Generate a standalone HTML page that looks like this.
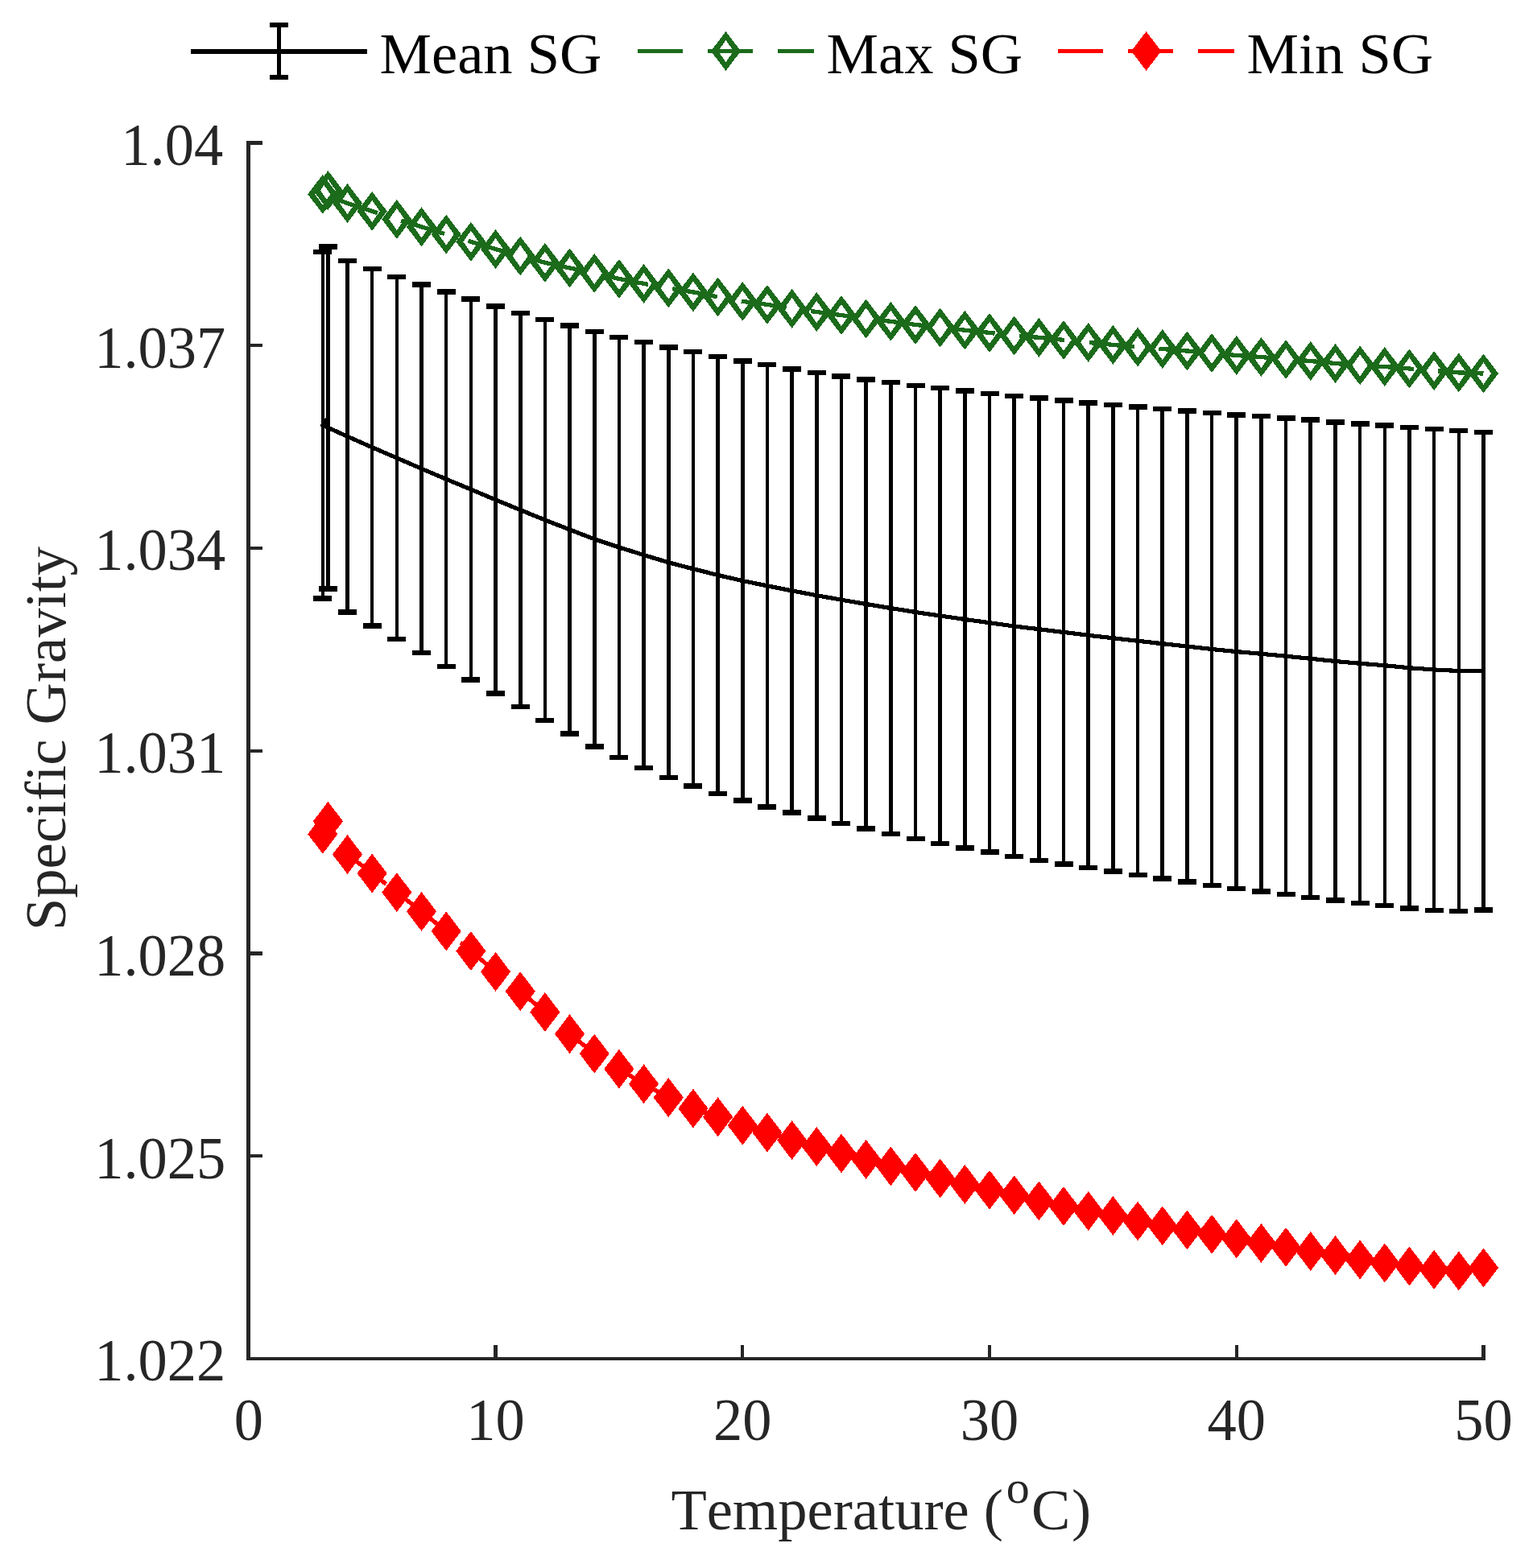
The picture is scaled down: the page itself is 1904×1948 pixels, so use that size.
<!DOCTYPE html>
<html lang="en"><head><meta charset="utf-8"><title>Specific Gravity vs Temperature</title>
<style>
html,body{margin:0;padding:0;background:#fff;}
body{width:1904px;height:1948px;overflow:hidden;}
svg{display:block;}
text{font-family:"Liberation Serif",serif;font-size:72.5px;font-kerning:none;font-variant-ligatures:none;white-space:pre;}
.tk{fill:#262626;}
.lg{fill:#000;}
</style></head><body>
<svg width="1904" height="1948" viewBox="0 0 1904 1948">
<rect width="1904" height="1948" fill="#fff"/>
<g stroke="#262626" stroke-width="4.4" fill="none" shape-rendering="crispEdges" stroke-linecap="butt">
<path d="M308.5 175.3V1688H1844.7"/>
<path d="M308.5 177.5h17.5M308.5 429.25h17.5M308.5 681h17.5M308.5 932.75h17.5M308.5 1184.5h17.5M308.5 1436.25h17.5M615.54 1688v-17.5M922.28 1688v-17.5M1229.02 1688v-17.5M1535.76 1688v-17.5M1842.5 1688v-17.5"/>
</g>
<g shape-rendering="crispEdges">
<polyline points="407.42,236.5 400.82,241.3 431.5,252.5 462.17,262.4 492.84,272.4 523.52,281.8 554.19,291.1 584.87,300.3 615.54,309.5 646.21,318 676.89,326.3 707.56,332.9 738.24,339.4 768.91,346.4 799.58,352.4 830.26,357.9 860.93,362.9 891.61,368.9 922.28,374.4 952.95,378.4 983.63,383.4 1014.3,387.5 1044.98,391.6 1075.65,396 1106.32,399.3 1137,403.4 1167.67,407 1198.35,410.2 1229.02,413.4 1259.69,417 1290.37,419.3 1321.04,422.4 1351.72,425.4 1382.39,428.4 1413.06,431.1 1443.74,433.5 1474.41,436 1505.09,438.5 1535.76,441.5 1566.43,443.5 1597.11,446.5 1627.78,448.5 1658.46,451.5 1689.13,453.9 1719.8,455.5 1750.48,458 1781.15,460.6 1811.83,462.9 1842.5,464" fill="none" stroke="#1b6b1b" stroke-width="5.3" stroke-dasharray="56.3 30.7" stroke-dashoffset="63.17"/>
<path fill="#1b6b1b" fill-rule="evenodd" d="M407.42 212.1L426.02 236.5L407.42 260.9L388.82 236.5ZM407.42 222.9L417.02 236.5L407.42 250.1L397.82 236.5Z"/>
<path fill="#1b6b1b" fill-rule="evenodd" d="M400.82 216.9L419.42 241.3L400.82 265.7L382.22 241.3ZM400.82 227.7L410.42 241.3L400.82 254.9L391.22 241.3Z"/>
<path fill="#1b6b1b" fill-rule="evenodd" d="M431.5 228.1L450.1 252.5L431.5 276.9L412.9 252.5ZM431.5 238.9L441.1 252.5L431.5 266.1L421.9 252.5Z"/>
<path fill="#1b6b1b" fill-rule="evenodd" d="M462.17 238L480.77 262.4L462.17 286.8L443.57 262.4ZM462.17 248.8L471.77 262.4L462.17 276L452.57 262.4Z"/>
<path fill="#1b6b1b" fill-rule="evenodd" d="M492.84 248L511.44 272.4L492.84 296.8L474.24 272.4ZM492.84 258.8L502.44 272.4L492.84 286L483.24 272.4Z"/>
<path fill="#1b6b1b" fill-rule="evenodd" d="M523.52 257.4L542.12 281.8L523.52 306.2L504.92 281.8ZM523.52 268.2L533.12 281.8L523.52 295.4L513.92 281.8Z"/>
<path fill="#1b6b1b" fill-rule="evenodd" d="M554.19 266.7L572.79 291.1L554.19 315.5L535.59 291.1ZM554.19 277.5L563.79 291.1L554.19 304.7L544.59 291.1Z"/>
<path fill="#1b6b1b" fill-rule="evenodd" d="M584.87 275.9L603.47 300.3L584.87 324.7L566.27 300.3ZM584.87 286.7L594.47 300.3L584.87 313.9L575.27 300.3Z"/>
<path fill="#1b6b1b" fill-rule="evenodd" d="M615.54 285.1L634.14 309.5L615.54 333.9L596.94 309.5ZM615.54 295.9L625.14 309.5L615.54 323.1L605.94 309.5Z"/>
<path fill="#1b6b1b" fill-rule="evenodd" d="M646.21 293.6L664.81 318L646.21 342.4L627.61 318ZM646.21 304.4L655.81 318L646.21 331.6L636.61 318Z"/>
<path fill="#1b6b1b" fill-rule="evenodd" d="M676.89 301.9L695.49 326.3L676.89 350.7L658.29 326.3ZM676.89 312.7L686.49 326.3L676.89 339.9L667.29 326.3Z"/>
<path fill="#1b6b1b" fill-rule="evenodd" d="M707.56 308.5L726.16 332.9L707.56 357.3L688.96 332.9ZM707.56 319.3L717.16 332.9L707.56 346.5L697.96 332.9Z"/>
<path fill="#1b6b1b" fill-rule="evenodd" d="M738.24 315L756.84 339.4L738.24 363.8L719.64 339.4ZM738.24 325.8L747.84 339.4L738.24 353L728.64 339.4Z"/>
<path fill="#1b6b1b" fill-rule="evenodd" d="M768.91 322L787.51 346.4L768.91 370.8L750.31 346.4ZM768.91 332.8L778.51 346.4L768.91 360L759.31 346.4Z"/>
<path fill="#1b6b1b" fill-rule="evenodd" d="M799.58 328L818.18 352.4L799.58 376.8L780.98 352.4ZM799.58 338.8L809.18 352.4L799.58 366L789.98 352.4Z"/>
<path fill="#1b6b1b" fill-rule="evenodd" d="M830.26 333.5L848.86 357.9L830.26 382.3L811.66 357.9ZM830.26 344.3L839.86 357.9L830.26 371.5L820.66 357.9Z"/>
<path fill="#1b6b1b" fill-rule="evenodd" d="M860.93 338.5L879.53 362.9L860.93 387.3L842.33 362.9ZM860.93 349.3L870.53 362.9L860.93 376.5L851.33 362.9Z"/>
<path fill="#1b6b1b" fill-rule="evenodd" d="M891.61 344.5L910.21 368.9L891.61 393.3L873.01 368.9ZM891.61 355.3L901.21 368.9L891.61 382.5L882.01 368.9Z"/>
<path fill="#1b6b1b" fill-rule="evenodd" d="M922.28 350L940.88 374.4L922.28 398.8L903.68 374.4ZM922.28 360.8L931.88 374.4L922.28 388L912.68 374.4Z"/>
<path fill="#1b6b1b" fill-rule="evenodd" d="M952.95 354L971.55 378.4L952.95 402.8L934.35 378.4ZM952.95 364.8L962.55 378.4L952.95 392L943.35 378.4Z"/>
<path fill="#1b6b1b" fill-rule="evenodd" d="M983.63 359L1002.23 383.4L983.63 407.8L965.03 383.4ZM983.63 369.8L993.23 383.4L983.63 397L974.03 383.4Z"/>
<path fill="#1b6b1b" fill-rule="evenodd" d="M1014.3 363.1L1032.9 387.5L1014.3 411.9L995.7 387.5ZM1014.3 373.9L1023.9 387.5L1014.3 401.1L1004.7 387.5Z"/>
<path fill="#1b6b1b" fill-rule="evenodd" d="M1044.98 367.2L1063.58 391.6L1044.98 416L1026.38 391.6ZM1044.98 378L1054.58 391.6L1044.98 405.2L1035.38 391.6Z"/>
<path fill="#1b6b1b" fill-rule="evenodd" d="M1075.65 371.6L1094.25 396L1075.65 420.4L1057.05 396ZM1075.65 382.4L1085.25 396L1075.65 409.6L1066.05 396Z"/>
<path fill="#1b6b1b" fill-rule="evenodd" d="M1106.32 374.9L1124.92 399.3L1106.32 423.7L1087.72 399.3ZM1106.32 385.7L1115.92 399.3L1106.32 412.9L1096.72 399.3Z"/>
<path fill="#1b6b1b" fill-rule="evenodd" d="M1137 379L1155.6 403.4L1137 427.8L1118.4 403.4ZM1137 389.8L1146.6 403.4L1137 417L1127.4 403.4Z"/>
<path fill="#1b6b1b" fill-rule="evenodd" d="M1167.67 382.6L1186.27 407L1167.67 431.4L1149.07 407ZM1167.67 393.4L1177.27 407L1167.67 420.6L1158.07 407Z"/>
<path fill="#1b6b1b" fill-rule="evenodd" d="M1198.35 385.8L1216.95 410.2L1198.35 434.6L1179.75 410.2ZM1198.35 396.6L1207.95 410.2L1198.35 423.8L1188.75 410.2Z"/>
<path fill="#1b6b1b" fill-rule="evenodd" d="M1229.02 389L1247.62 413.4L1229.02 437.8L1210.42 413.4ZM1229.02 399.8L1238.62 413.4L1229.02 427L1219.42 413.4Z"/>
<path fill="#1b6b1b" fill-rule="evenodd" d="M1259.69 392.6L1278.29 417L1259.69 441.4L1241.09 417ZM1259.69 403.4L1269.29 417L1259.69 430.6L1250.09 417Z"/>
<path fill="#1b6b1b" fill-rule="evenodd" d="M1290.37 394.9L1308.97 419.3L1290.37 443.7L1271.77 419.3ZM1290.37 405.7L1299.97 419.3L1290.37 432.9L1280.77 419.3Z"/>
<path fill="#1b6b1b" fill-rule="evenodd" d="M1321.04 398L1339.64 422.4L1321.04 446.8L1302.44 422.4ZM1321.04 408.8L1330.64 422.4L1321.04 436L1311.44 422.4Z"/>
<path fill="#1b6b1b" fill-rule="evenodd" d="M1351.72 401L1370.32 425.4L1351.72 449.8L1333.12 425.4ZM1351.72 411.8L1361.32 425.4L1351.72 439L1342.12 425.4Z"/>
<path fill="#1b6b1b" fill-rule="evenodd" d="M1382.39 404L1400.99 428.4L1382.39 452.8L1363.79 428.4ZM1382.39 414.8L1391.99 428.4L1382.39 442L1372.79 428.4Z"/>
<path fill="#1b6b1b" fill-rule="evenodd" d="M1413.06 406.7L1431.66 431.1L1413.06 455.5L1394.46 431.1ZM1413.06 417.5L1422.66 431.1L1413.06 444.7L1403.46 431.1Z"/>
<path fill="#1b6b1b" fill-rule="evenodd" d="M1443.74 409.1L1462.34 433.5L1443.74 457.9L1425.14 433.5ZM1443.74 419.9L1453.34 433.5L1443.74 447.1L1434.14 433.5Z"/>
<path fill="#1b6b1b" fill-rule="evenodd" d="M1474.41 411.6L1493.01 436L1474.41 460.4L1455.81 436ZM1474.41 422.4L1484.01 436L1474.41 449.6L1464.81 436Z"/>
<path fill="#1b6b1b" fill-rule="evenodd" d="M1505.09 414.1L1523.69 438.5L1505.09 462.9L1486.49 438.5ZM1505.09 424.9L1514.69 438.5L1505.09 452.1L1495.49 438.5Z"/>
<path fill="#1b6b1b" fill-rule="evenodd" d="M1535.76 417.1L1554.36 441.5L1535.76 465.9L1517.16 441.5ZM1535.76 427.9L1545.36 441.5L1535.76 455.1L1526.16 441.5Z"/>
<path fill="#1b6b1b" fill-rule="evenodd" d="M1566.43 419.1L1585.03 443.5L1566.43 467.9L1547.83 443.5ZM1566.43 429.9L1576.03 443.5L1566.43 457.1L1556.83 443.5Z"/>
<path fill="#1b6b1b" fill-rule="evenodd" d="M1597.11 422.1L1615.71 446.5L1597.11 470.9L1578.51 446.5ZM1597.11 432.9L1606.71 446.5L1597.11 460.1L1587.51 446.5Z"/>
<path fill="#1b6b1b" fill-rule="evenodd" d="M1627.78 424.1L1646.38 448.5L1627.78 472.9L1609.18 448.5ZM1627.78 434.9L1637.38 448.5L1627.78 462.1L1618.18 448.5Z"/>
<path fill="#1b6b1b" fill-rule="evenodd" d="M1658.46 427.1L1677.06 451.5L1658.46 475.9L1639.86 451.5ZM1658.46 437.9L1668.06 451.5L1658.46 465.1L1648.86 451.5Z"/>
<path fill="#1b6b1b" fill-rule="evenodd" d="M1689.13 429.5L1707.73 453.9L1689.13 478.3L1670.53 453.9ZM1689.13 440.3L1698.73 453.9L1689.13 467.5L1679.53 453.9Z"/>
<path fill="#1b6b1b" fill-rule="evenodd" d="M1719.8 431.1L1738.4 455.5L1719.8 479.9L1701.2 455.5ZM1719.8 441.9L1729.4 455.5L1719.8 469.1L1710.2 455.5Z"/>
<path fill="#1b6b1b" fill-rule="evenodd" d="M1750.48 433.6L1769.08 458L1750.48 482.4L1731.88 458ZM1750.48 444.4L1760.08 458L1750.48 471.6L1740.88 458Z"/>
<path fill="#1b6b1b" fill-rule="evenodd" d="M1781.15 436.2L1799.75 460.6L1781.15 485L1762.55 460.6ZM1781.15 447L1790.75 460.6L1781.15 474.2L1771.55 460.6Z"/>
<path fill="#1b6b1b" fill-rule="evenodd" d="M1811.83 438.5L1830.43 462.9L1811.83 487.3L1793.23 462.9ZM1811.83 449.3L1821.43 462.9L1811.83 476.5L1802.23 462.9Z"/>
<path fill="#1b6b1b" fill-rule="evenodd" d="M1842.5 439.6L1861.1 464L1842.5 488.4L1823.9 464ZM1842.5 450.4L1852.1 464L1842.5 477.6L1832.9 464Z"/>
</g>
<g shape-rendering="crispEdges" stroke="#000" fill="none">
<path stroke-width="4.6" d="M407.42 306.5V731.5M400.82 313V743.5M431.5 324V760.4M462.17 334V777.5M492.84 344V793.9M523.52 353.5V811M554.19 362.5V828.1M584.87 371.5V844.5M615.54 380.5V861.4M646.21 389V878M676.89 397V895M707.56 404.5V911.5M738.24 412V927.5M768.91 419V941M799.58 425V954M830.26 431.5V966M860.93 437V976.5M891.61 443V986M922.28 448.5V994.5M952.95 453.3V1002.4M983.63 458.4V1009.4M1014.3 462.9V1016.5M1044.98 467.4V1023M1075.65 471.5V1029.4M1106.32 475V1036M1137 479V1042M1167.67 482V1048M1198.35 485.5V1053.4M1229.02 489V1058.4M1259.69 492V1064M1290.37 494.5V1068.9M1321.04 497.5V1073.4M1351.72 500.5V1078M1382.39 503V1082.5M1413.06 505.5V1087M1443.74 508V1091.4M1474.41 510.5V1095.5M1505.09 513V1100M1535.76 515.5V1103.7M1566.43 517.1V1107.4M1597.11 519.5V1110.9M1627.78 521.5V1115M1658.46 524.5V1118.5M1689.13 526.6V1122M1719.8 528.4V1125M1750.48 531V1128.5M1781.15 533V1130.9M1811.83 535V1132M1842.5 537V1130.5"/>
<path stroke-width="6.3" d="M395.92 306.5h23M395.92 731.5h23M389.32 313h23M389.32 743.5h23M420 324h23M420 760.4h23M450.67 334h23M450.67 777.5h23M481.34 344h23M481.34 793.9h23M512.02 353.5h23M512.02 811h23M542.69 362.5h23M542.69 828.1h23M573.37 371.5h23M573.37 844.5h23M604.04 380.5h23M604.04 861.4h23M634.71 389h23M634.71 878h23M665.39 397h23M665.39 895h23M696.06 404.5h23M696.06 911.5h23M726.74 412h23M726.74 927.5h23M757.41 419h23M757.41 941h23M788.08 425h23M788.08 954h23M818.76 431.5h23M818.76 966h23M849.43 437h23M849.43 976.5h23M880.11 443h23M880.11 986h23M910.78 448.5h23M910.78 994.5h23M941.45 453.3h23M941.45 1002.4h23M972.13 458.4h23M972.13 1009.4h23M1002.8 462.9h23M1002.8 1016.5h23M1033.48 467.4h23M1033.48 1023h23M1064.15 471.5h23M1064.15 1029.4h23M1094.82 475h23M1094.82 1036h23M1125.5 479h23M1125.5 1042h23M1156.17 482h23M1156.17 1048h23M1186.85 485.5h23M1186.85 1053.4h23M1217.52 489h23M1217.52 1058.4h23M1248.19 492h23M1248.19 1064h23M1278.87 494.5h23M1278.87 1068.9h23M1309.54 497.5h23M1309.54 1073.4h23M1340.22 500.5h23M1340.22 1078h23M1370.89 503h23M1370.89 1082.5h23M1401.56 505.5h23M1401.56 1087h23M1432.24 508h23M1432.24 1091.4h23M1462.91 510.5h23M1462.91 1095.5h23M1493.59 513h23M1493.59 1100h23M1524.26 515.5h23M1524.26 1103.7h23M1554.93 517.1h23M1554.93 1107.4h23M1585.61 519.5h23M1585.61 1110.9h23M1616.28 521.5h23M1616.28 1115h23M1646.96 524.5h23M1646.96 1118.5h23M1677.63 526.6h23M1677.63 1122h23M1708.3 528.4h23M1708.3 1125h23M1738.98 531h23M1738.98 1128.5h23M1769.65 533h23M1769.65 1130.9h23M1800.33 535h23M1800.33 1132h23M1831 537h23M1831 1130.5h23"/>
</g>
<polyline points="407.42,519 400.82,528.25 431.5,542.2 462.17,555.75 492.84,568.95 523.52,582.25 554.19,595.3 584.87,608 615.54,620.95 646.21,633.5 676.89,646 707.56,658 738.24,669.75 768.91,680 799.58,689.5 830.26,698.75 860.93,706.75 891.61,714.5 922.28,721.5 952.95,727.85 983.63,733.9 1014.3,739.7 1044.98,745.2 1075.65,750.45 1106.32,755.5 1137,760.5 1167.67,765 1198.35,769.45 1229.02,773.7 1259.69,778 1290.37,781.7 1321.04,785.45 1351.72,789.25 1382.39,792.75 1413.06,796.25 1443.74,799.7 1474.41,803 1505.09,806.5 1535.76,809.6 1566.43,812.25 1597.11,815.2 1627.78,818.25 1658.46,821.5 1689.13,824.3 1719.8,826.7 1750.48,829.75 1781.15,831.95 1811.83,833.5 1842.5,833.75" fill="none" stroke="#000" stroke-width="5.2" stroke-linejoin="round" shape-rendering="crispEdges"/>
<g shape-rendering="crispEdges">
<polyline points="407.42,1020.3 400.82,1036.3 431.5,1061.5 462.17,1085 492.84,1108.6 523.52,1132.4 554.19,1156.9 584.87,1181.5 615.54,1207.3 646.21,1231.6 676.89,1257.4 707.56,1284.5 738.24,1309 768.91,1328 799.58,1346.6 830.26,1363.5 860.93,1377.1 891.61,1387.6 922.28,1398.1 952.95,1407 983.63,1416.5 1014.3,1424.5 1044.98,1432.9 1075.65,1440.3 1106.32,1448.8 1137,1456.4 1167.67,1463.9 1198.35,1471.4 1229.02,1478.3 1259.69,1484.8 1290.37,1491.9 1321.04,1498.5 1351.72,1504.5 1382.39,1510.4 1413.06,1517 1443.74,1522.9 1474.41,1528 1505.09,1533.4 1535.76,1538.9 1566.43,1544.4 1597.11,1549.4 1627.78,1554.5 1658.46,1559.5 1689.13,1565 1719.8,1569 1750.48,1573 1781.15,1577.4 1811.83,1578.9 1842.5,1575" fill="none" stroke="#ff0000" stroke-width="5.3" stroke-dasharray="56.3 30.7" stroke-dashoffset="25.77"/>
<path fill="#ff0000" d="M407.42 995.9L426.02 1020.3L407.42 1044.7L388.82 1020.3ZM400.82 1011.9L419.42 1036.3L400.82 1060.7L382.22 1036.3ZM431.5 1037.1L450.1 1061.5L431.5 1085.9L412.9 1061.5ZM462.17 1060.6L480.77 1085L462.17 1109.4L443.57 1085ZM492.84 1084.2L511.44 1108.6L492.84 1133L474.24 1108.6ZM523.52 1108L542.12 1132.4L523.52 1156.8L504.92 1132.4ZM554.19 1132.5L572.79 1156.9L554.19 1181.3L535.59 1156.9ZM584.87 1157.1L603.47 1181.5L584.87 1205.9L566.27 1181.5ZM615.54 1182.9L634.14 1207.3L615.54 1231.7L596.94 1207.3ZM646.21 1207.2L664.81 1231.6L646.21 1256L627.61 1231.6ZM676.89 1233L695.49 1257.4L676.89 1281.8L658.29 1257.4ZM707.56 1260.1L726.16 1284.5L707.56 1308.9L688.96 1284.5ZM738.24 1284.6L756.84 1309L738.24 1333.4L719.64 1309ZM768.91 1303.6L787.51 1328L768.91 1352.4L750.31 1328ZM799.58 1322.2L818.18 1346.6L799.58 1371L780.98 1346.6ZM830.26 1339.1L848.86 1363.5L830.26 1387.9L811.66 1363.5ZM860.93 1352.7L879.53 1377.1L860.93 1401.5L842.33 1377.1ZM891.61 1363.2L910.21 1387.6L891.61 1412L873.01 1387.6ZM922.28 1373.7L940.88 1398.1L922.28 1422.5L903.68 1398.1ZM952.95 1382.6L971.55 1407L952.95 1431.4L934.35 1407ZM983.63 1392.1L1002.23 1416.5L983.63 1440.9L965.03 1416.5ZM1014.3 1400.1L1032.9 1424.5L1014.3 1448.9L995.7 1424.5ZM1044.98 1408.5L1063.58 1432.9L1044.98 1457.3L1026.38 1432.9ZM1075.65 1415.9L1094.25 1440.3L1075.65 1464.7L1057.05 1440.3ZM1106.32 1424.4L1124.92 1448.8L1106.32 1473.2L1087.72 1448.8ZM1137 1432L1155.6 1456.4L1137 1480.8L1118.4 1456.4ZM1167.67 1439.5L1186.27 1463.9L1167.67 1488.3L1149.07 1463.9ZM1198.35 1447L1216.95 1471.4L1198.35 1495.8L1179.75 1471.4ZM1229.02 1453.9L1247.62 1478.3L1229.02 1502.7L1210.42 1478.3ZM1259.69 1460.4L1278.29 1484.8L1259.69 1509.2L1241.09 1484.8ZM1290.37 1467.5L1308.97 1491.9L1290.37 1516.3L1271.77 1491.9ZM1321.04 1474.1L1339.64 1498.5L1321.04 1522.9L1302.44 1498.5ZM1351.72 1480.1L1370.32 1504.5L1351.72 1528.9L1333.12 1504.5ZM1382.39 1486L1400.99 1510.4L1382.39 1534.8L1363.79 1510.4ZM1413.06 1492.6L1431.66 1517L1413.06 1541.4L1394.46 1517ZM1443.74 1498.5L1462.34 1522.9L1443.74 1547.3L1425.14 1522.9ZM1474.41 1503.6L1493.01 1528L1474.41 1552.4L1455.81 1528ZM1505.09 1509L1523.69 1533.4L1505.09 1557.8L1486.49 1533.4ZM1535.76 1514.5L1554.36 1538.9L1535.76 1563.3L1517.16 1538.9ZM1566.43 1520L1585.03 1544.4L1566.43 1568.8L1547.83 1544.4ZM1597.11 1525L1615.71 1549.4L1597.11 1573.8L1578.51 1549.4ZM1627.78 1530.1L1646.38 1554.5L1627.78 1578.9L1609.18 1554.5ZM1658.46 1535.1L1677.06 1559.5L1658.46 1583.9L1639.86 1559.5ZM1689.13 1540.6L1707.73 1565L1689.13 1589.4L1670.53 1565ZM1719.8 1544.6L1738.4 1569L1719.8 1593.4L1701.2 1569ZM1750.48 1548.6L1769.08 1573L1750.48 1597.4L1731.88 1573ZM1781.15 1553L1799.75 1577.4L1781.15 1601.8L1762.55 1577.4ZM1811.83 1554.5L1830.43 1578.9L1811.83 1603.3L1793.23 1578.9ZM1842.5 1550.6L1861.1 1575L1842.5 1599.4L1823.9 1575Z"/>
</g>
<g shape-rendering="crispEdges">
<path d="M236.8 63.5H455.9" stroke="#000" stroke-width="6" fill="none"/>
<path d="M346.5 28V99.3" stroke="#000" stroke-width="5.5" fill="none"/>
<path d="M335 31H358M335 96.2H358" stroke="#000" stroke-width="6.3" fill="none"/>
<path d="M792 63.5H1011" stroke="#1b6b1b" stroke-width="5" stroke-dasharray="56 31" fill="none"/>
<path fill="#1b6b1b" fill-rule="evenodd" d="M901.5 39.1L920.1 63.5L901.5 87.9L882.9 63.5ZM901.5 49.9L911.1 63.5L901.5 77.1L891.9 63.5Z"/>
<path d="M1314 63.5H1533" stroke="#ff0000" stroke-width="5" stroke-dasharray="56 31" fill="none"/>
<path fill="#ff0000" d="M1423.6 39.1L1442.2 63.5L1423.6 87.9L1405 63.5Z"/>
</g>
<text class="lg" x="471.5" y="91">Mean SG</text>
<text class="lg" x="1026.5" y="91">Max SG</text>
<text class="lg" x="1548.5" y="91">Min SG</text>
<text class="tk" text-anchor="end" transform="translate(277.2 204.8) scale(1 1.025)">1.04</text>
<text class="tk" text-anchor="end" transform="translate(280.3 456.55) scale(1 1.025)">1.037</text>
<text class="tk" text-anchor="end" transform="translate(280.3 708.3) scale(1 1.025)">1.034</text>
<text class="tk" text-anchor="end" transform="translate(280.3 960.05) scale(1 1.025)">1.031</text>
<text class="tk" text-anchor="end" transform="translate(280.3 1211.8) scale(1 1.025)">1.028</text>
<text class="tk" text-anchor="end" transform="translate(280.3 1463.55) scale(1 1.025)">1.025</text>
<text class="tk" text-anchor="end" transform="translate(280.3 1714.5) scale(1 1.025)">1.022</text>
<text class="tk" text-anchor="middle" transform="translate(308.8 1788.7) scale(1 1.025)">0</text>
<text class="tk" text-anchor="middle" transform="translate(615.54 1788.7) scale(1 1.025)">10</text>
<text class="tk" text-anchor="middle" transform="translate(922.28 1788.7) scale(1 1.025)">20</text>
<text class="tk" text-anchor="middle" transform="translate(1229.02 1788.7) scale(1 1.025)">30</text>
<text class="tk" text-anchor="middle" transform="translate(1535.76 1788.7) scale(1 1.025)">40</text>
<text class="tk" text-anchor="middle" transform="translate(1842.5 1788.7) scale(1 1.025)">50</text>
<text class="tk" y="1900.2"><tspan x="833.4">Temperature (</tspan><tspan x="1249.8" dy="-33.3" font-size="58px">o</tspan><tspan x="1281" dy="33.3">C</tspan><tspan x="1331">)</tspan></text>
<text class="tk" text-anchor="middle" transform="translate(81.1 917.5) rotate(-90)">Specific Gravity</text>
</svg>
</body></html>
